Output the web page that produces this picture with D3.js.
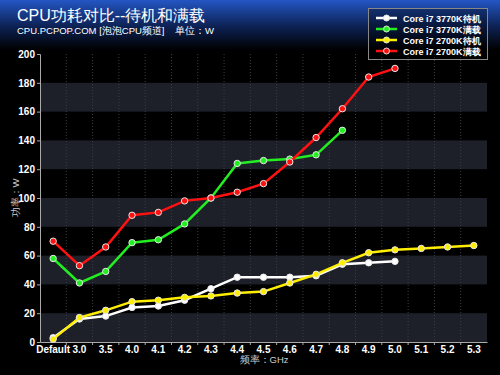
<!DOCTYPE html>
<html>
<head>
<meta charset="utf-8">
<script src="https://cdn.jsdelivr.net/npm/d3@7"></script>
<style>
  body { margin: 0; background: #000; }
  svg { display: block; font-family: "Liberation Sans", Arial, sans-serif; }
</style>
</head>
<body>
<svg id="chart" width="500" height="375"></svg>
<script>
const categories = ["Default","3.0","3.5","4.0","4.1","4.2","4.3","4.4","4.5","4.6","4.7","4.8","4.9","5.0","5.1","5.2","5.3"];
const seriesNames = ["Core i7 3770K待机","Core i7 3770K满载","Core i7 2700K待机","Core i7 2700K满载"];
const idle3770 = [3,16,18,24,25,29,37,45,45,45,46,54,55,56];
const load3770 = [58,41,49,69,71,82,100,124,126,127,130,147];
const idle2700 = [2,17,22,28,29,31,32,34,35,41,47,55,62,64,65,66,67];
const load2700 = [70,53,66,88,90,98,100,104,110,125,142,162,184,190];
const yTicks = [0,20,40,60,80,100,120,140,160,180,200];
const colors = ["#ffffff","#22ee22","#ffee00","#ff1111"];

const chart = d3.select("#chart");
const margin = {left: 40, right: 13, top: 54, bottom: 33};
const width = 500, height = 375;

// background with blue header
const defs = chart.append("defs");
const grad = defs.append("linearGradient").attr("id","bg").attr("x1",0).attr("y1",0).attr("x2",0).attr("y2",1);
grad.append("stop").attr("offset","0%").attr("stop-color","#2356c4");
grad.append("stop").attr("offset","55%").attr("stop-color","#0c2050");
grad.append("stop").attr("offset","100%").attr("stop-color","#000");
chart.append("rect").attr("width",width).attr("height",height).attr("fill","#000");
chart.append("rect").attr("width",width).attr("height",50).attr("fill","url(#bg)");

const x = d3.scaleBand()
    .domain(categories)
    .range([margin.left, width - margin.right]);
const y = d3.scaleLinear()
    .domain([0,200])
    .range([height - margin.bottom, margin.top]);

// stripes
for(let i = 0; i < yTicks.length - 1; i += 2){
    chart.append("rect")
        .attr("x", margin.left)
        .attr("y", y(yTicks[i+1]))
        .attr("width", width - margin.right - margin.left)
        .attr("height", y(yTicks[i]) - y(yTicks[i+1]))
        .attr("fill", "#1d2029");
}

// vertical dotted grid
chart.append("g").selectAll("line")
    .data(categories.slice(1))
    .enter().append("line")
    .attr("x1", d => x(d)).attr("x2", d => x(d))
    .attr("y1", y(200)).attr("y2", y(0))
    .attr("stroke", "#3a3d45")
    .attr("stroke-dasharray", "1,2");

// axes
const yAxis = d3.axisLeft(y).tickValues(yTicks).tickSize(3).tickPadding(2);
const gy = chart.append("g").attr("transform","translate(" + margin.left + ",0)").call(yAxis);
gy.select(".domain").attr("stroke","#aaa");
gy.selectAll(".tick line").attr("stroke","#aaa");
gy.selectAll("text").attr("fill","#fff").style("font-size","10px").style("font-weight","bold");

const xAxis = d3.axisBottom(x).tickSize(0).tickPadding(4);
const gx = chart.append("g").attr("transform","translate(0," + y(0) + ")").call(xAxis);
gx.select(".domain").attr("stroke","#aaa");
gx.selectAll("text").attr("fill","#fff").style("font-size","10px").style("font-weight","bold");
gx.selectAll(".bnd").data(categories.slice(1)).enter().append("line")
    .attr("x1", d => x(d)).attr("x2", d => x(d))
    .attr("y1", 0).attr("y2", 3).attr("stroke","#aaa");

// lines
const allSeries = [idle3770, load3770, idle2700, load2700];
const line = d3.line()
    .x((d,i) => x(categories[i]) + x.bandwidth()/2)
    .y(d => y(d));
for(let s = 0; s < allSeries.length; s++){
    const g = chart.append("g");
    g.append("path")
        .datum(allSeries[s])
        .attr("d", line)
        .attr("fill","none")
        .attr("stroke", colors[s])
        .attr("stroke-width", 2.5);
    g.selectAll("circle")
        .data(allSeries[s])
        .enter().append("circle")
        .attr("cx", (d,i) => x(categories[i]) + x.bandwidth()/2)
        .attr("cy", d => y(d))
        .attr("r", 3.2)
        .attr("fill", colors[s])
        .attr("stroke", "#e8e8e8")
        .attr("stroke-width", 1);
}

// titles
chart.append("text").attr("x",17).attr("y",21)
    .attr("fill","#fff").style("font-size","16px")
    .text("CPU功耗对比--待机和满载");
chart.append("text").attr("x",17).attr("y",34)
    .attr("fill","#fff").style("font-size","9.5px")
    .attr("xml:space","preserve")
    .text("CPU.PCPOP.COM [泡泡CPU频道]    单位：W");

chart.append("text")
    .attr("transform","rotate(-90)")
    .attr("x", -198).attr("y", 19)
    .attr("fill","#ccc").style("font-size","9.5px")
    .style("text-anchor","middle")
    .text("功率：W");
chart.append("text")
    .attr("x", 264).attr("y", 363)
    .attr("fill","#ccc").style("font-size","9.5px")
    .style("text-anchor","middle")
    .text("频率：GHz");

// legend
const legend = chart.append("g");
legend.append("rect")
    .attr("x",368.5).attr("y",8.5).attr("width",119).attr("height",51)
    .attr("fill","#000").attr("fill-opacity",0.3)
    .attr("stroke","#888");
seriesNames.forEach((name,i) => {
    const ly = 18 + i*11;
    legend.append("line").attr("x1",376).attr("x2",397).attr("y1",ly).attr("y2",ly)
        .attr("stroke",colors[i]).attr("stroke-width",2.5);
    legend.append("circle").attr("cx",386.5).attr("cy",ly).attr("r",3)
        .attr("fill",colors[i]).attr("stroke","#e8e8e8");
    legend.append("text").attr("x",403).attr("y",ly+3.5)
        .attr("fill","#fff").style("font-size","9px").style("font-weight","bold")
        .text(name);
});
</script>
</body>
</html>
